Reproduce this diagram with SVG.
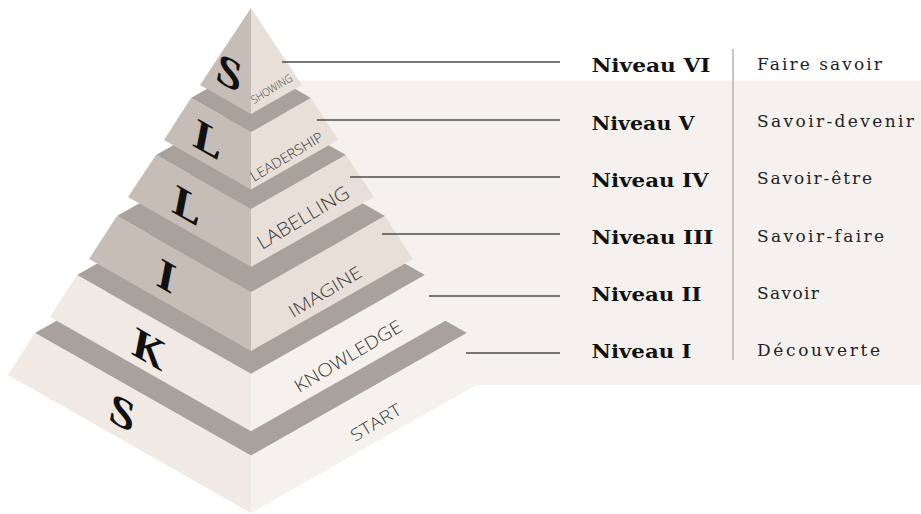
<svg xmlns="http://www.w3.org/2000/svg" width="921" height="514" viewBox="0 0 921 514">
<style>
.band{fill:#a9a29c}
.ld{fill:#c5bdb6}
.rd{fill:#e8e0d8}
.ll{fill:#f0e9e4}
.rl{fill:#f5f1ed}
.tl{font-family:"Liberation Serif",serif;font-weight:bold;font-style:italic;font-size:46px;fill:#111;text-anchor:middle}
.fl{font-family:"Open Sans","Liberation Sans",sans-serif;font-weight:300;fill:#3a3a3a}
.nv{font-family:"DejaVu Serif",serif;font-weight:bold;font-size:19px;fill:#111}
.sv{font-family:"DejaVu Serif",serif;font-size:17px;fill:#222}
.cn{stroke:#4d4d4d;stroke-width:1.4;fill:none}
</style>
<rect id="panel" x="251" y="80.5" width="670" height="304.5" fill="#f4f1ee"/>
<g id="tier-start">
<polygon class="band" points="35,333 251,455.7 467,333 251,210.3"/>
<polygon class="ll" points="35,333 8,375 251,513 251,455.7"/>
<polygon class="rl" points="467,333 494,375 251,513 251,455.7"/>
<text class="tl" transform="translate(122,413) skewY(30)" y="15">S</text>
<text class="fl" font-size="17" transform="translate(355,442) rotate(-31)" textLength="56" lengthAdjust="spacingAndGlyphs">START</text>
</g>
<g id="tier-knowledge">
<polygon class="band" points="77,275 251,373.8 425,275 251,176.2"/>
<polygon class="ll" points="77,275 50,317 251,431.2 251,373.8"/>
<polygon class="rl" points="425,275 452,317 251,431.2 251,373.8"/>
<text class="tl" transform="translate(147,348) skewY(30)" y="15">K</text>
<text class="fl" font-size="18" transform="translate(299,393) rotate(-31)" textLength="122" lengthAdjust="spacingAndGlyphs">KNOWLEDGE</text>
</g>
<g id="tier-imagine">
<polygon class="band" points="117,216 251,292.1 385,216 251,139.9"/>
<polygon class="ld" points="117,216 89,259 251,351 251,292.1"/>
<polygon class="rd" points="385,216 413,259 251,351 251,292.1"/>
<text class="tl" transform="translate(166,276) skewY(30)" y="15">I</text>
<text class="fl" font-size="17" transform="translate(293,318) rotate(-31)" textLength="82" lengthAdjust="spacingAndGlyphs">IMAGINE</text>
</g>
<g id="tier-labelling">
<polygon class="band" points="156,155 251,209 346,155 251,101"/>
<polygon class="ld" points="156,155 128,197 251,266.9 251,209"/>
<polygon class="rd" points="346,155 374,197 251,266.9 251,209"/>
<text class="tl" transform="translate(186,205) skewY(30)" y="15">L</text>
<text class="fl" font-size="19" transform="translate(262,250) rotate(-31)" textLength="104" lengthAdjust="spacingAndGlyphs">LABELLING</text>
</g>
<g id="tier-leadership">
<polygon class="band" points="191,98 251,132.1 311,98 251,63.9"/>
<polygon class="ld" points="191,98 164,140 251,189.4 251,132.1"/>
<polygon class="rd" points="311,98 338,140 251,189.4 251,132.1"/>
<text class="tl" transform="translate(207,139) skewY(30)" y="15">L</text>
<text class="fl" font-size="14" transform="translate(254,182) rotate(-31)" textLength="82" lengthAdjust="spacingAndGlyphs">LEADERSHIP</text>
</g>
<g id="tier-showing">
<polygon class="ld" points="251,8 200,85 251,114"/>
<polygon class="rd" points="251,8 302,85 251,114"/>
<text class="tl" transform="translate(229,73) skewY(30)" y="15">S</text>
<text class="fl" font-size="11" transform="translate(254,104) rotate(-31)" textLength="46" lengthAdjust="spacingAndGlyphs">SHOWING</text>
</g>
<g id="connectors">
<line class="cn" x1="282" y1="62" x2="560" y2="62"/>
<line class="cn" x1="317" y1="120" x2="560" y2="120"/>
<line class="cn" x1="350" y1="177" x2="560" y2="177"/>
<line class="cn" x1="382" y1="234" x2="560" y2="234"/>
<line class="cn" x1="429" y1="296" x2="560" y2="296"/>
<line class="cn" x1="466" y1="353" x2="560" y2="353"/>
</g>
<line id="divider" x1="733" y1="49" x2="733" y2="360" stroke="#b8b2ac" stroke-width="1.5"/>
<g id="level-6"><text class="nv" x="591.5" y="72" textLength="119" lengthAdjust="spacingAndGlyphs">Niveau VI</text><text class="sv" x="757" y="69.5" textLength="125" lengthAdjust="spacing">Faire savoir</text></g>
<g id="level-5"><text class="nv" x="591.5" y="130" textLength="103" lengthAdjust="spacingAndGlyphs">Niveau V</text><text class="sv" x="757" y="127" textLength="157" lengthAdjust="spacing">Savoir-devenir</text></g>
<g id="level-4"><text class="nv" x="591.5" y="187" textLength="117" lengthAdjust="spacingAndGlyphs">Niveau IV</text><text class="sv" x="757" y="184" textLength="115" lengthAdjust="spacing">Savoir-être</text></g>
<g id="level-3"><text class="nv" x="591.5" y="244" textLength="122" lengthAdjust="spacingAndGlyphs">Niveau III</text><text class="sv" x="757" y="241.5" textLength="127" lengthAdjust="spacing">Savoir-faire</text></g>
<g id="level-2"><text class="nv" x="591.5" y="301" textLength="110" lengthAdjust="spacingAndGlyphs">Niveau II</text><text class="sv" x="757" y="299" textLength="62" lengthAdjust="spacing">Savoir</text></g>
<g id="level-1"><text class="nv" x="591.5" y="357.5" textLength="100" lengthAdjust="spacingAndGlyphs">Niveau I</text><text class="sv" x="757" y="356" textLength="123" lengthAdjust="spacing">Découverte</text></g>
</svg>
